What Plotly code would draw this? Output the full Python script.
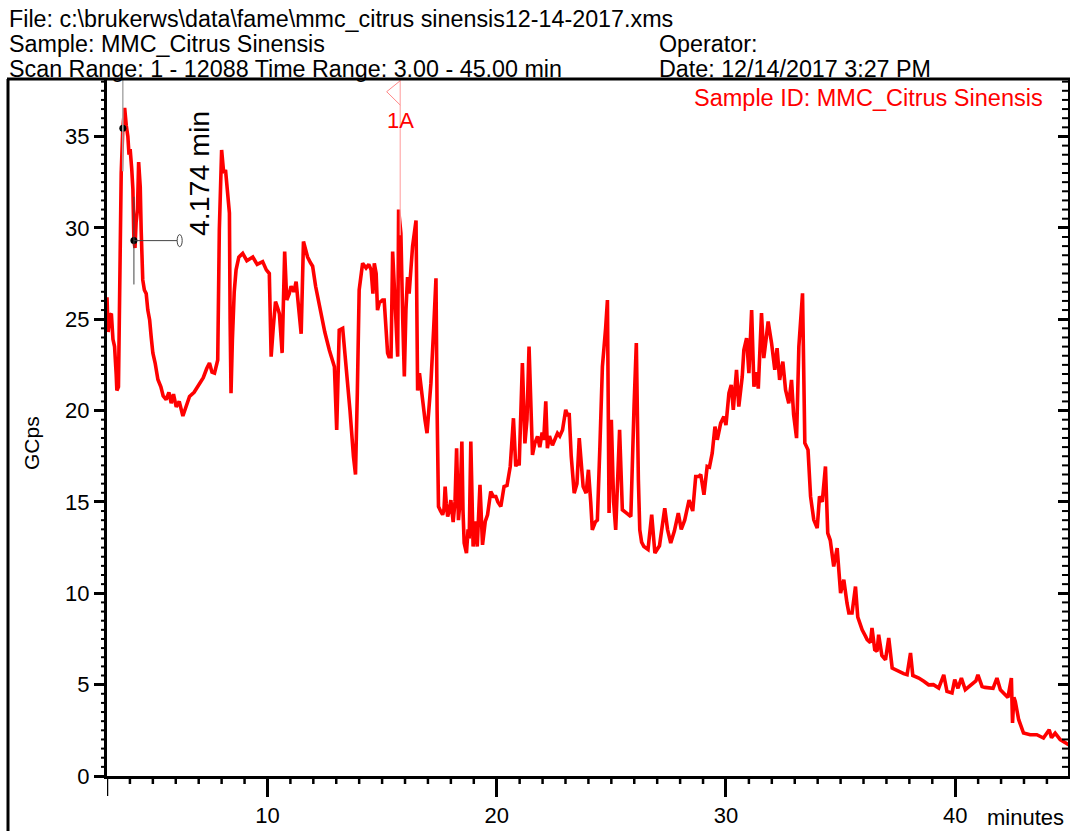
import numpy as np
import plotly.graph_objects as go

# ---------------- data (retention time in minutes, signal in GCps) ----------------
time_min = [
    3.00, 3.05, 3.12, 3.19, 3.26, 3.33, 3.40, 3.43, 3.50, 3.56, 3.62, 3.69, 3.77, 3.84, 3.91, 3.96,
    4.01, 4.08, 4.13, 4.174, 4.22, 4.27, 4.33, 4.38, 4.45, 4.49, 4.56, 4.63, 4.71, 4.78, 4.86, 4.93,
    5.00, 5.10, 5.22, 5.35, 5.45, 5.58, 5.70, 5.80, 5.90, 6.02, 6.15, 6.31, 6.45, 6.60, 6.80, 7.03,
    7.20, 7.35, 7.47, 7.58, 7.69, 7.83, 7.90, 8.00, 8.09, 8.17, 8.25, 8.34, 8.37, 8.41, 8.47, 8.55,
    8.63, 8.75, 8.92, 9.10, 9.36, 9.55, 9.79, 9.95, 10.08, 10.16, 10.25, 10.35, 10.45, 10.52, 10.64,
    10.75, 10.84, 10.95, 11.03, 11.15, 11.25, 11.32, 11.39, 11.47, 11.57, 11.66, 11.75, 11.87, 11.97,
    12.10, 12.26, 12.50, 12.70, 12.82, 12.92, 13.02, 13.13, 13.28, 13.43, 13.60, 13.75, 13.84, 13.92,
    14.00, 14.15, 14.30, 14.42, 14.52, 14.60, 14.66, 14.74, 14.80, 14.88, 15.02, 15.09, 15.17, 15.24,
    15.30, 15.39, 15.46, 15.52, 15.57, 15.68, 15.72, 15.82, 15.90, 15.97, 16.04, 16.11, 16.18, 16.25,
    16.33, 16.48, 16.55, 16.63, 16.70, 16.77, 16.87, 16.96, 17.05, 17.13, 17.25, 17.35, 17.40, 17.46,
    17.55, 17.64, 17.70, 17.75, 17.80, 17.86, 17.93, 18.00, 18.10, 18.18, 18.25, 18.33, 18.40, 18.48,
    18.53, 18.58, 18.68, 18.75, 18.80, 18.87, 18.97, 19.05, 19.15, 19.27, 19.38, 19.50, 19.60, 19.74,
    19.85, 19.96, 20.05, 20.18, 20.32, 20.45, 20.59, 20.73, 20.83, 20.90, 20.98, 21.12, 21.23, 21.32,
    21.41, 21.48, 21.56, 21.66, 21.78, 21.88, 21.98, 22.05, 22.14, 22.21, 22.30, 22.43, 22.55, 22.65,
    22.75, 22.87, 23.01, 23.10, 23.16, 23.25, 23.38, 23.50, 23.60, 23.70, 23.77, 23.90, 24.00, 24.10,
    24.17, 24.30, 24.39, 24.50, 24.61, 24.75, 24.83, 24.90, 25.00, 25.10, 25.19, 25.36, 25.48, 25.65,
    25.85, 25.99, 26.09, 26.18, 26.24, 26.32, 26.42, 26.60, 26.76, 26.90, 27.10, 27.33, 27.45, 27.59,
    27.75, 27.92, 28.05, 28.20, 28.39, 28.55, 28.68, 28.82, 28.90, 29.04, 29.18, 29.28, 29.40, 29.52,
    29.62, 29.77, 29.91, 30.00, 30.13, 30.23, 30.32, 30.46, 30.56, 30.71, 30.78, 30.90, 31.00, 31.12,
    31.22, 31.32, 31.41, 31.55, 31.65, 31.75, 31.84, 31.99, 32.13, 32.23, 32.34, 32.48, 32.60, 32.74,
    32.86, 32.95, 33.08, 33.18, 33.34, 33.44, 33.58, 33.69, 33.83, 33.98, 34.08, 34.20, 34.34, 34.44,
    34.55, 34.70, 34.85, 35.00, 35.14, 35.28, 35.36, 35.50, 35.65, 35.75, 35.87, 35.94, 36.09, 36.16,
    36.30, 36.37, 36.49, 36.59, 36.66, 36.80, 36.96, 37.10, 37.25, 37.40, 37.54, 37.75, 37.90, 38.05,
    38.15, 38.41, 38.63, 38.84, 39.05, 39.28, 39.50, 39.64, 39.86, 39.98, 40.12, 40.27, 40.44, 40.60,
    40.73, 40.90, 40.99, 41.17, 41.30, 41.46, 41.65, 41.82, 41.97, 42.18, 42.30, 42.45, 42.50, 42.56,
    42.62, 42.77, 42.98, 43.27, 43.56, 43.85, 44.10, 44.20, 44.36, 44.58, 44.95,
]
signal_gcps = [
    26.2, 24.3, 25.2, 25.3, 23.9, 23.5, 22.0, 21.1, 21.3, 28.0, 33.0, 35.45, 36.56, 35.6, 35.0, 34.0,
    34.3, 33.2, 32.1, 29.3, 28.9, 30.3, 31.0, 33.6, 32.25, 29.9, 27.15, 26.6, 26.4, 25.5, 24.96, 24.0,
    23.15, 22.6, 21.7, 21.3, 20.8, 20.6, 21.0, 20.4, 20.9, 20.2, 20.5, 19.7, 20.3, 20.77, 21.0, 21.5,
    21.8, 22.3, 22.6, 22.1, 22.05, 22.77, 29.9, 34.26, 33.0, 33.17, 32.2, 30.8, 25.0, 20.95, 23.9, 26.5,
    27.7, 28.4, 28.6, 28.2, 28.4, 28.0, 28.15, 27.7, 27.5, 22.95, 24.5, 25.96, 25.6, 25.3, 23.15,
    28.7, 26.05, 26.4, 26.8, 26.5, 27.05, 26.0, 24.96, 24.2, 29.25, 28.8, 28.4, 28.1, 27.9,
    26.8, 25.7, 24.3, 23.3, 22.8, 22.4, 18.94, 24.4, 24.5, 22.6, 20.0, 17.5, 16.5, 21.0,
    26.6, 28.06, 27.8, 28.0, 27.7, 26.4, 28.06, 27.5, 25.5, 25.9, 26.05, 26.05, 24.05, 23.15,
    22.95, 22.95, 28.7, 27.0, 26.05, 22.95, 31.0, 29.7, 25.0, 21.86, 25.5, 27.3, 26.4, 27.5,
    29.0, 30.4, 21.1, 22.05, 21.2, 20.6, 19.5, 18.76, 20.0, 21.5, 24.5, 27.24, 20.0, 14.75,
    14.5, 14.3, 14.6, 15.84, 14.9, 14.2, 14.5, 15.1, 13.9, 15.0, 17.94, 14.0, 15.0, 18.3,
    14.5, 12.75, 12.2, 13.5, 13.0, 18.3, 12.56, 13.93, 12.56, 15.94, 12.65, 13.93, 14.3, 15.57,
    15.3, 15.3, 15.0, 14.75, 15.84, 15.9, 16.94, 19.58, 16.94, 17.3, 17.0, 22.6, 18.2, 19.5,
    23.5, 20.0, 17.57, 18.2, 18.58, 18.0, 18.8, 18.4, 20.5, 17.94, 18.6, 18.1, 18.5, 18.76,
    18.6, 18.94, 20.04, 19.7, 19.86, 17.5, 15.48, 16.0, 18.49, 17.0, 15.84, 15.48, 16.76, 15.0,
    13.47, 13.9, 14.0, 18.0, 22.4, 24.5, 26.05, 14.39, 19.5, 15.0, 13.47, 18.94, 14.57, 14.4,
    14.2, 20.22, 23.69, 16.2, 13.47, 12.8, 12.56, 12.4, 14.3, 12.2, 12.6, 14.66, 13.5, 12.75,
    13.4, 14.39, 13.5, 14.0, 15.1, 14.5, 16.39, 16.39, 16.5, 15.39, 16.94, 16.9, 17.67, 19.12,
    18.4, 19.31, 19.67, 19.2, 20.95, 21.4, 20.04, 22.23, 20.22, 21.86, 23.32, 23.96, 22.05, 25.5,
    21.3, 22.1, 21.2, 25.33, 22.87, 23.9, 24.87, 23.69, 22.23, 23.41, 21.68, 22.68, 21.13, 20.4,
    21.68, 19.8, 18.49, 23.5, 26.42, 18.22, 17.85, 15.3, 14.02, 13.57, 15.3, 15.0, 16.94, 13.29,
    12.9, 11.47, 12.47, 10.01, 10.74, 9.46, 8.92, 8.92, 10.37, 8.7, 8.18, 8.0, 7.64, 7.46,
    7.3, 8.1, 6.91, 6.82, 7.73, 6.6, 6.36, 7.55, 5.91, 5.8, 5.72, 5.6, 5.54, 6.73,
    5.5, 5.36, 5.18, 4.99, 5.0, 4.81, 5.54, 4.63, 4.54, 5.27, 4.8, 5.36, 4.72, 4.9,
    4.99, 5.2, 5.54, 4.9, 4.85, 4.81, 4.8, 5.36, 4.72, 4.45, 4.3, 5.36, 2.9, 4.3,
    4.08, 3.08, 2.35, 2.26, 2.26, 2.08, 2.53, 2.1, 2.35, 1.99, 1.71,
]

# labelled markers
marker_times = [3.69, 4.174]
marker_values = [35.45, 29.3]
marker_label = "4.174 min"
peak_1a_time = 15.79
peak_1a_label = "1A"

x_major_step, x_minor_step = 10, 1
y_major_step, y_minor_step = 5, 0.5

header_lines = [
    "File: c:\\brukerws\\data\\fame\\mmc_citrus sinensis12-14-2017.xms",
    "Sample: MMC_Citrus Sinensis",
    "Scan Range: 1 - 12088 Time Range: 3.00 - 45.00 min",
]
header_right = ["Operator:", "Date: 12/14/2017 3:27 PM"]
sample_id = "Sample ID: MMC_Citrus Sinensis"

# ---------------- layout geometry ----------------
W, H = 1070, 831
ML, MR, MT, MB = 107, 2, 78, 55
PW, PH = W - ML - MR, H - MT - MB
X_RANGE = [3, 44.92]
Y_RANGE = [0, 38.2]
FONT = "Liberation Sans, Arial, sans-serif"


def px(xp):
    return (xp - ML) / PW


def py(yp):
    return (H - MB - yp) / PH


fig = go.Figure()

fig.add_trace(go.Scatter(
    x=time_min, y=signal_gcps, mode="lines",
    line=dict(color="#ff0000", width=3.6), hoverinfo="x+y", showlegend=False,
))

# invisible helper trace so that the right-hand axis is drawn
fig.add_trace(go.Scatter(x=[X_RANGE[0]], y=[0], yaxis="y2", mode="markers",
                         marker=dict(opacity=0), hoverinfo="skip", showlegend=False))

# marker guide lines
fig.add_shape(type="line", x0=marker_times[0], x1=marker_times[0], y0=33.1, y1=Y_RANGE[1],
              line=dict(color="#aaaaaa", width=1.5))
fig.add_shape(type="line", x0=marker_times[1], x1=marker_times[1], y0=26.9, y1=31.7,
              line=dict(color="#444444", width=1))
fig.add_shape(type="line", x0=marker_times[1], x1=6.06, y0=marker_values[1], y1=marker_values[1],
              line=dict(color="#444444", width=1))
fig.add_shape(type="circle", x0=6.06, x1=6.28, y0=28.97, y1=29.63,
              line=dict(color="#444444", width=1), fillcolor="white")

fig.add_trace(go.Scatter(x=marker_times, y=marker_values, mode="markers",
                         marker=dict(color="black", size=7), hoverinfo="skip", showlegend=False))

# 1A peak marker
fig.add_shape(type="line", x0=peak_1a_time, x1=peak_1a_time, y0=29.6, y1=Y_RANGE[1],
              line=dict(color="#ffaaaa", width=1.2))
fig.add_shape(type="path",
              path=f"M {peak_1a_time} 38.05 L 15.2 37.45 L {peak_1a_time} 36.72",
              line=dict(color="#ff8888", width=1))

# minor ticks, generated from the axis steps (time axis below, signal axis left and right)
for t in np.arange(np.ceil(X_RANGE[0]) + x_minor_step, X_RANGE[1], x_minor_step):
    if abs(t / x_major_step - round(t / x_major_step)) < 1e-9:
        continue
    fig.add_shape(type="line", xref="x", yref="paper", x0=t, x1=t, y0=0, y1=py(H - MB + 8),
                  line=dict(color="black", width=2.5))
for v in np.arange(y_minor_step, Y_RANGE[1], y_minor_step):
    if abs(v / y_major_step - round(v / y_major_step)) < 1e-9:
        continue
    fig.add_shape(type="line", xref="paper", yref="y", x0=0, x1=px(ML - 6), y0=v, y1=v,
                  line=dict(color="black", width=2))
    fig.add_shape(type="line", xref="paper", yref="y", x0=1, x1=px(W - MR - 6), y0=v, y1=v,
                  line=dict(color="black", width=2))

ann = []
ann.append(dict(x=peak_1a_time + 0.02, y=35.9, xref="x", yref="y", text=peak_1a_label,
                showarrow=False, font=dict(family=FONT, size=22, color="#ff0000"),
                xanchor="center", yanchor="middle"))
ann.append(dict(x=px(199), y=py(174), xref="paper", yref="paper", text=marker_label,
                textangle=-90, showarrow=False,
                font=dict(family=FONT, size=28.5, color="black"),
                xanchor="center", yanchor="middle"))

# header texts
hy = [19, 44, 69]
for t, yy in zip(header_lines, hy):
    ann.append(dict(x=px(7), y=py(yy), xref="paper", yref="paper", text=t, showarrow=False,
                    font=dict(family=FONT, size=23.3, color="black"),
                    xanchor="left", yanchor="middle"))
for t, yy in zip(header_right, hy[1:]):
    ann.append(dict(x=px(657), y=py(yy), xref="paper", yref="paper", text=t, showarrow=False,
                    font=dict(family=FONT, size=23.3, color="black"),
                    xanchor="left", yanchor="middle"))
ann.append(dict(x=px(1045), y=py(98), xref="paper", yref="paper", text=sample_id,
                showarrow=False, font=dict(family=FONT, size=23.5, color="#ff0000"),
                xanchor="right", yanchor="middle"))
ann.append(dict(x=px(32), y=py(443), xref="paper", yref="paper", text="GCps", textangle=-90,
                showarrow=False, font=dict(family=FONT, size=21, color="black"),
                xanchor="center", yanchor="middle"))
ann.append(dict(x=px(1066), y=py(817), xref="paper", yref="paper", text="minutes",
                showarrow=False, font=dict(family=FONT, size=22, color="black"),
                xanchor="right", yanchor="middle"))

# outer frame: top line and left line
fig.add_shape(type="line", xref="paper", yref="paper", x0=px(7), x1=px(W), y0=py(79), y1=py(79),
              line=dict(color="black", width=3))
fig.add_shape(type="line", xref="paper", yref="paper", x0=px(8), x1=px(8), y0=py(79), y1=py(H + 2),
              line=dict(color="black", width=3))
# long tick at the start of the time axis
fig.add_shape(type="line", xref="x", yref="paper", x0=X_RANGE[0], x1=X_RANGE[0], y0=0, y1=py(796),
              line=dict(color="black", width=2.5))

common = dict(showgrid=False, zeroline=False, tickcolor="black", linecolor="black")
fig.update_layout(
    width=W, height=H,
    margin=dict(l=ML, r=MR, t=MT, b=MB),
    paper_bgcolor="white", plot_bgcolor="white",
    font=dict(family=FONT, size=22, color="black"),
    showlegend=False,
    annotations=ann,
    xaxis=dict(range=X_RANGE, tickmode="linear", tick0=0, dtick=x_major_step, ticks="outside",
               ticklen=18, tickwidth=2.5, showline=True, linewidth=3, tickfont=dict(size=22),
               **common),
    yaxis=dict(range=Y_RANGE, tickmode="linear", tick0=0, dtick=y_major_step, ticks="outside",
               ticklen=10, tickwidth=2.5, showline=True, linewidth=3, tickfont=dict(size=22),
               **common),
    yaxis2=dict(range=Y_RANGE, overlaying="y", anchor="x", side="right", tickmode="linear",
                tick0=0, dtick=y_major_step, ticks="inside", ticklen=10, tickwidth=2.5,
                showline=True, linewidth=3, showticklabels=False, **common),
)

fig.write_html(
    "out.html",
    config={"displayModeBar": False},
    post_script="document.body.style.margin='0';document.body.style.padding='0';"
                "document.body.style.overflow='hidden';",
)
